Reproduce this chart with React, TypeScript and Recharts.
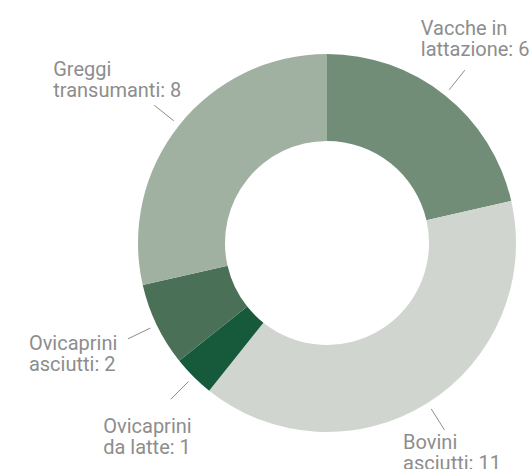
import React from 'react';
import { PieChart, Pie, Cell } from 'recharts';

const categories = [
  'Vacche in lattazione',
  'Bovini asciutti',
  'Ovicaprini da latte',
  'Ovicaprini asciutti',
  'Greggi transumanti',
];
const values = [6, 11, 1, 2, 8];
// label text split over two lines, as in the picture
const labelLines = [
  ['Vacche in', 'lattazione: 6'],
  ['Bovini', 'asciutti: 11'],
  ['Ovicaprini', 'da latte: 1'],
  ['Ovicaprini', 'asciutti: 2'],
  ['Greggi', 'transumanti: 8'],
];

const COLORS = ['#728d77', '#d0d6cf', '#175a3b', '#4a7157', '#a0b0a1'];
const TEXT_COLOR = '#8d8d8d';

// where each label's text sits relative to the end of its leader line
const TEXT_OFFSETS = [
  { dx: -44, dy: -35 },
  { dx: -41.5, dy: 19 },
  { dx: -67.5, dy: 33.5 },
  { dx: -99, dy: 11 },
  { dx: -101, dy: -29 },
];

const RADIAN = Math.PI / 180;

const renderLabel = (props: any) => {
  const { cx, cy, midAngle, outerRadius, index } = props;
  const cos = Math.cos(-midAngle * RADIAN);
  const sin = Math.sin(-midAngle * RADIAN);
  const sx = cx + (outerRadius + 7) * cos;
  const sy = cy + (outerRadius + 7) * sin;
  const ex = cx + (outerRadius + 32) * cos;
  const ey = cy + (outerRadius + 32) * sin;
  const off = TEXT_OFFSETS[index];
  const lines = labelLines[index];
  return (
    <g key={`label-${index}`}>
      <line x1={sx} y1={sy} x2={ex} y2={ey} stroke={TEXT_COLOR} strokeWidth={1} />
      <text
        x={ex + off.dx}
        y={ey + off.dy}
        fill={TEXT_COLOR}
        fontSize={20}
        fontFamily="Roboto, sans-serif"
        textAnchor="start"
      >
        {lines.map((l, i) => (
          <tspan key={i} x={ex + off.dx} dy={i === 0 ? 0 : 21}>
            {l}
          </tspan>
        ))}
      </text>
    </g>
  );
};

const data = categories.map((name, i) => ({ name, value: values[i] }));

export default function App() {
  return (
    <div style={{ position: 'absolute', left: 0, top: 0, width: 530, height: 469, background: '#fff' }}>
      <PieChart width={530} height={469}>
        <Pie
          data={data}
          dataKey="value"
          nameKey="name"
          cx={322}
          cy={238}
          startAngle={90}
          endAngle={-270}
          innerRadius={102}
          outerRadius={189}
          stroke="none"
          label={renderLabel}
          labelLine={false}
          isAnimationActive={false}
        >
          {data.map((entry, index) => (
            <Cell key={`cell-${index}`} fill={COLORS[index]} />
          ))}
        </Pie>
      </PieChart>
    </div>
  );
}
